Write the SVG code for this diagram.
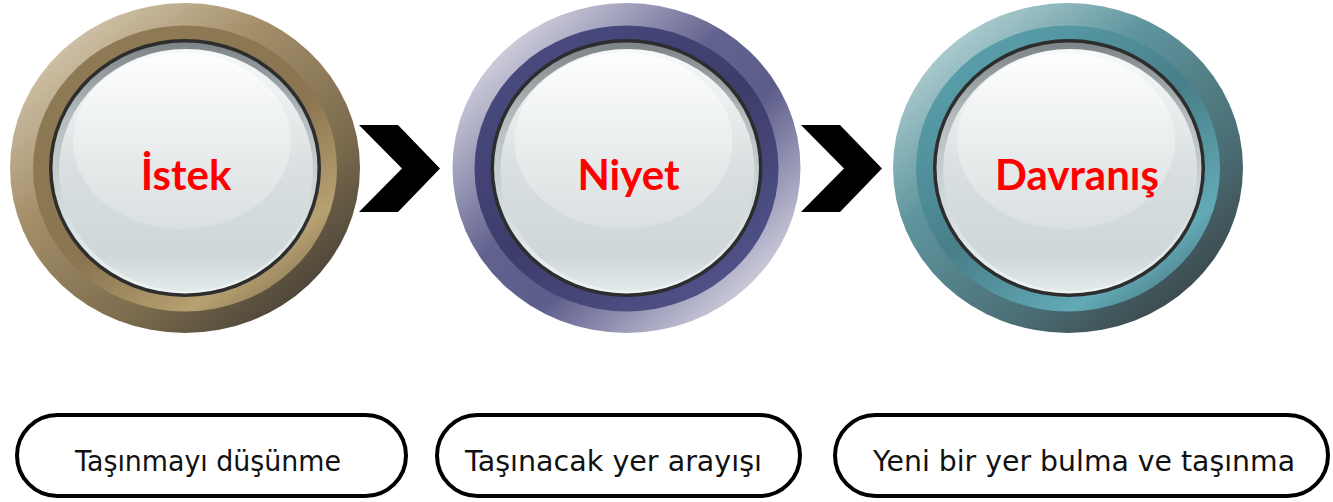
<svg xmlns="http://www.w3.org/2000/svg" width="1333" height="502" viewBox="0 0 1333 502">
<defs>
<linearGradient id="o1" x1="0.1" y1="0.05" x2="0.9" y2="0.95"><stop offset="0" stop-color="#dbcfb8"/><stop offset="0.35" stop-color="#a38e68"/><stop offset="0.7" stop-color="#7b6b4d"/><stop offset="1" stop-color="#3f3a33"/></linearGradient>
<linearGradient id="b1" x1="0.15" y1="0.05" x2="0.85" y2="0.95"><stop offset="0" stop-color="#8e7a55"/><stop offset="0.55" stop-color="#8a7550"/><stop offset="0.85" stop-color="#b7a172"/><stop offset="1" stop-color="#8d7a58"/></linearGradient>
<linearGradient id="o2" x1="0.05" y1="0.05" x2="0.95" y2="0.95"><stop offset="0" stop-color="#f0eff4"/><stop offset="0.42" stop-color="#62628f"/><stop offset="0.6" stop-color="#5d5d8c"/><stop offset="1" stop-color="#f0eff4"/></linearGradient>
<linearGradient id="b2" x1="0.15" y1="0.05" x2="0.85" y2="0.95"><stop offset="0" stop-color="#4a4b80"/><stop offset="0.5" stop-color="#3c3d6a"/><stop offset="1" stop-color="#52538a"/></linearGradient>
<linearGradient id="o3" x1="0.1" y1="0.05" x2="0.9" y2="0.95"><stop offset="0" stop-color="#c0dadc"/><stop offset="0.35" stop-color="#5f959e"/><stop offset="0.7" stop-color="#4b6f76"/><stop offset="1" stop-color="#373f41"/></linearGradient>
<linearGradient id="b3" x1="0.15" y1="0.05" x2="0.85" y2="0.95"><stop offset="0" stop-color="#5aa2ae"/><stop offset="0.5" stop-color="#487f89"/><stop offset="0.85" stop-color="#62aab6"/><stop offset="1" stop-color="#4d7f88"/></linearGradient>
<linearGradient id="rim" x1="0" y1="0" x2="0" y2="1"><stop offset="0" stop-color="#7c8487"/><stop offset="0.3" stop-color="#b4bcbe"/><stop offset="0.7" stop-color="#d6dfe0"/><stop offset="1" stop-color="#eef4f4"/></linearGradient>
<linearGradient id="face" x1="0" y1="0" x2="0" y2="1"><stop offset="0" stop-color="#f8fafa"/><stop offset="0.5" stop-color="#d9dfe0"/><stop offset="0.85" stop-color="#cfd7d9"/><stop offset="1" stop-color="#e3eaea"/></linearGradient>
<linearGradient id="hl" x1="0" y1="0" x2="0" y2="1"><stop offset="0" stop-color="#ffffff" stop-opacity="0.85"/><stop offset="1" stop-color="#dfe4e5" stop-opacity="0.6"/></linearGradient>
</defs>
<style>
.ring{fill:#2d2d2d}
.rim{fill:url(#rim)}
.face{fill:url(#face)}
.hl{fill:url(#hl)}
.title{font-family:Lato,"Open Sans",sans-serif;font-weight:bold;font-size:42px;fill:#ff0000;text-anchor:middle}
.pill{fill:#ffffff;stroke:#000000;stroke-width:4}
.lbl{font-family:"DejaVu Sans","Noto Sans",sans-serif;font-size:29px;fill:#111111;text-anchor:middle}
.chev{fill:#000000}
</style>
<rect width="1333" height="502" fill="#ffffff"/>
<g id="node-istek">
<ellipse cx="185" cy="168" rx="175" ry="165" fill="url(#o1)"/>
<ellipse cx="185" cy="168.5" rx="152" ry="143" fill="url(#b1)"/>
<ellipse class="ring" cx="185" cy="168" rx="136" ry="129"/>
<ellipse class="rim" cx="185" cy="168" rx="132.5" ry="125.5"/>
<ellipse class="face" cx="186" cy="170" rx="127" ry="121"/>
<ellipse class="hl" cx="182" cy="141" rx="109" ry="88"/>
<text class="title" x="186" y="190">İstek</text>
</g>
<g id="node-niyet">
<ellipse cx="626.5" cy="168" rx="174" ry="165" fill="url(#o2)"/>
<ellipse cx="626.5" cy="168.5" rx="152" ry="143" fill="url(#b2)"/>
<ellipse class="ring" cx="626.5" cy="168" rx="136" ry="129"/>
<ellipse class="rim" cx="626.5" cy="168" rx="132.5" ry="125.5"/>
<ellipse class="face" cx="627.5" cy="170" rx="127" ry="121"/>
<ellipse class="hl" cx="623.5" cy="141" rx="109" ry="88"/>
<text class="title" x="628.5" y="190">Niyet</text>
</g>
<g id="node-davranis">
<ellipse cx="1068" cy="168" rx="175" ry="165" fill="url(#o3)"/>
<ellipse cx="1068" cy="168.5" rx="152" ry="143" fill="url(#b3)"/>
<ellipse class="ring" cx="1069" cy="168" rx="136" ry="129"/>
<ellipse class="rim" cx="1069" cy="168" rx="132.5" ry="125.5"/>
<ellipse class="face" cx="1070" cy="170" rx="127" ry="121"/>
<ellipse class="hl" cx="1066" cy="141" rx="109" ry="88"/>
<text class="title" x="1077" y="190">Davranış</text>
</g>
<g id="connectors">
<polygon class="chev" points="359,125 398,125 440,168.5 398,212 359,212 402,168.5"/>
<polygon class="chev" points="801,125 840,125 882,168.5 840,212 801,212 844,168.5"/>
</g>
<g id="label-1">
<rect class="pill" x="17" y="415" width="389" height="81" rx="40.5"/>
<text class="lbl" x="208" y="471" textLength="266" lengthAdjust="spacingAndGlyphs">Taşınmayı düşünme</text>
</g>
<g id="label-2">
<rect class="pill" x="437" y="415" width="363" height="81" rx="40.5"/>
<text class="lbl" x="613.5" y="471" textLength="297" lengthAdjust="spacingAndGlyphs">Taşınacak yer arayışı</text>
</g>
<g id="label-3">
<rect class="pill" x="835" y="415" width="493" height="81" rx="40.5"/>
<text class="lbl" x="1084" y="471" textLength="422" lengthAdjust="spacingAndGlyphs">Yeni bir yer bulma ve taşınma</text>
</g>
</svg>
